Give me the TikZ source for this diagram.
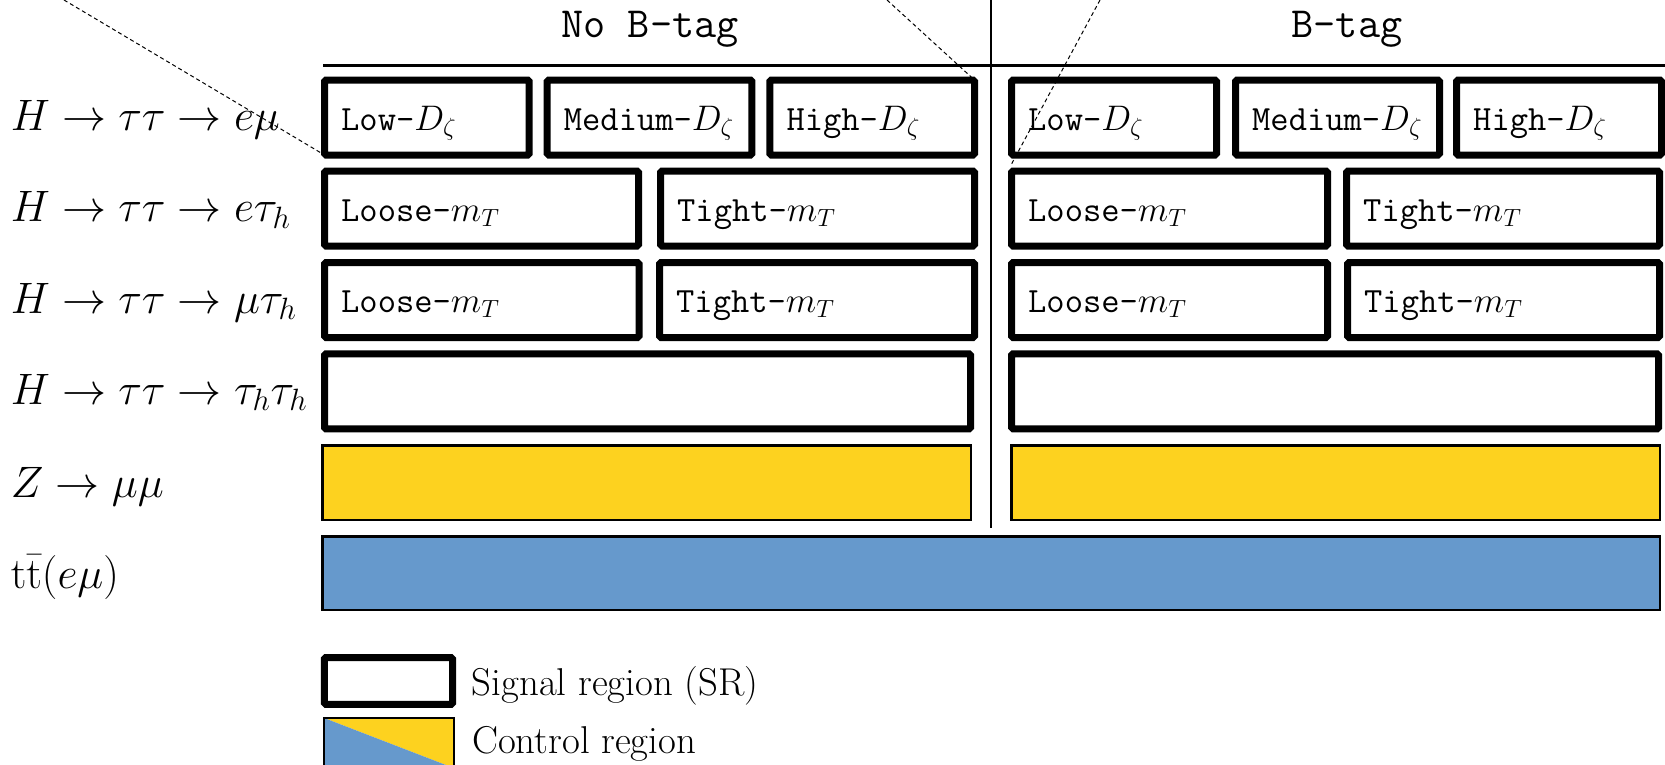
\RequirePackage{fix-cm}
\documentclass[tikz,border=0pt]{standalone}
\usepackage[no-math]{fontspec}
\definecolor{cryellow}{RGB}{253,210,31}
\definecolor{crblue}{RGB}{102,153,204}
\begin{document}
\begin{tikzpicture}[x=1pt,y=-1pt,
  sr/.style={draw=black, line width=7pt, rounded corners=1.5pt, fill=white, inner sep=0pt, outer sep=0pt, minimum height=75pt},
  cr/.style={draw=black, line width=2.5pt, inner sep=0pt, outer sep=0pt},
  boxtxt/.style={anchor=base west, inner sep=0pt, font=\fontsize{35.5}{40}\selectfont\ttfamily},
  rowlbl/.style={anchor=base west, inner sep=0pt, font=\fontsize{44}{50}\selectfont},
  head/.style={anchor=base, inner sep=0pt, font=\fontsize{43}{48}\selectfont\ttfamily},
  legtxt/.style={anchor=base west, inner sep=0pt, font=\fontsize{38.8}{44}\selectfont},
  rulestyle/.style={line width=2.7pt},
  zoomline/.style={line width=1pt, dash pattern=on 4pt off 3pt}]
\useasboundingbox (0,0) rectangle (1665,764);

% headers
\node[head] (hno) at (650,37) {No B-tag};
\node[head] (hb) at (1347,37) {B-tag};
\coordinate (hl1) at (323,65.7);
\coordinate (hl2) at (1665,65.7);
\draw[rulestyle] (hl1) -- (hl2);
\coordinate (vl1) at (991,0);
\coordinate (vl2) at (991,528);
\draw[rulestyle] (vl1) -- (vl2);

% row labels
\node[rowlbl] (lab1) at (10.6,130.5) {$H\rightarrow\tau\tau\rightarrow e\mu$};
\node[rowlbl] (lab2) at (10.6,221.5) {$H\rightarrow\tau\tau\rightarrow e\tau_h$};
\node[rowlbl] (lab3) at (10.6,313) {$H\rightarrow\tau\tau\rightarrow \mu\tau_h$};
\node[rowlbl] (lab4) at (10.6,404) {$H\rightarrow\tau\tau\rightarrow \tau_h\tau_h$};
\node[rowlbl] (lab5) at (10.6,497) {$Z\rightarrow\mu\mu$};
\node[rowlbl] (lab6) at (10.6,588) {$\mathrm{t\bar{t}}(e\mu)$};

% row 1
\node[sr, minimum width=204.7pt] (l11) at (426.85,117.5) {};
\node[sr, minimum width=204.6pt] (l12) at (649.5,117.5) {};
\node[sr, minimum width=204.7pt] (l13) at (872.15,117.5) {};
\node[sr, minimum width=205pt] (r11) at (1114,117.5) {};
\node[sr, minimum width=204pt] (r12) at (1337.5,117.5) {};
\node[sr, minimum width=205pt] (r13) at (1559,117.5) {};
\foreach \n/\t in {l11/Low, l12/Medium, l13/High, r11/Low, r12/Medium, r13/High}
  \node[boxtxt] at ([xshift=16.5pt,yshift=-12.5pt]\n.center -| \n.west) {\t-$D_\zeta$};

% row 2
\node[sr, minimum width=314pt] (l21) at (481.5,208.5) {};
\node[sr, minimum width=314pt] (l22) at (817.5,208.5) {};
\node[sr, minimum width=316pt] (r21) at (1169.5,208.5) {};
\node[sr, minimum width=313pt] (r22) at (1503,208.5) {};
% row 3
\node[sr, minimum width=314.5pt] (l31) at (481.75,300) {};
\node[sr, minimum width=315pt] (l32) at (817,300) {};
\node[sr, minimum width=316pt] (r31) at (1169.5,300) {};
\node[sr, minimum width=312pt] (r32) at (1503.5,300) {};
\foreach \n/\t in {l21/Loose, l22/Tight, r21/Loose, r22/Tight, l31/Loose, l32/Tight, r31/Loose, r32/Tight}
  \node[boxtxt] at ([xshift=16.5pt,yshift=-12.5pt]\n.center -| \n.west) {\t-$m_T$};

% row 4
\node[sr, minimum width=646pt] (l41) at (647.5,391.3) {};
\node[sr, minimum width=647pt] (r41) at (1335,391.3) {};

% row 5 (control, yellow)
\node[cr, fill=cryellow, minimum width=648.5pt, minimum height=74.5pt] (l51) at (646.5,482.5) {};
\node[cr, fill=cryellow, minimum width=648.5pt, minimum height=74.5pt] (r51) at (1335.5,482.5) {};

% row 6 (control, blue)
\node[cr, fill=crblue, minimum width=1337.5pt, minimum height=73.5pt] (b61) at (991,573) {};

% zoom lines
\coordinate (z1) at (64,0);
\coordinate (z2) at (887,0);
\coordinate (z3) at (1100,0);
\coordinate (z3e) at (1011,165);
\draw[zoomline] (z1) -- (l11.south west);
\draw[zoomline] (z2) -- (l13.north east);
\draw[zoomline] (z3) -- (z3e);

% legend
\node[sr, minimum width=128.3pt, minimum height=46.7pt] (legsr) at (388.4,680.9) {};
\node[legtxt] (legsrt) at (471.7,695) {Signal region (SR)};
\node[inner sep=0pt, outer sep=0pt, minimum width=129.7pt, minimum height=50pt] (legcr) at (388.9,743) {};
\fill[cryellow] (legcr.north west) -- (legcr.north east) -- (legcr.south east) -- cycle;
\fill[crblue] (legcr.north west) -- (legcr.south west) -- (legcr.south east) -- cycle;
\draw[line width=2.5pt] (legcr.north west) rectangle (legcr.south east);
\node[legtxt] (legcrt) at (472,753) {Control region};
\end{tikzpicture}
\end{document}
